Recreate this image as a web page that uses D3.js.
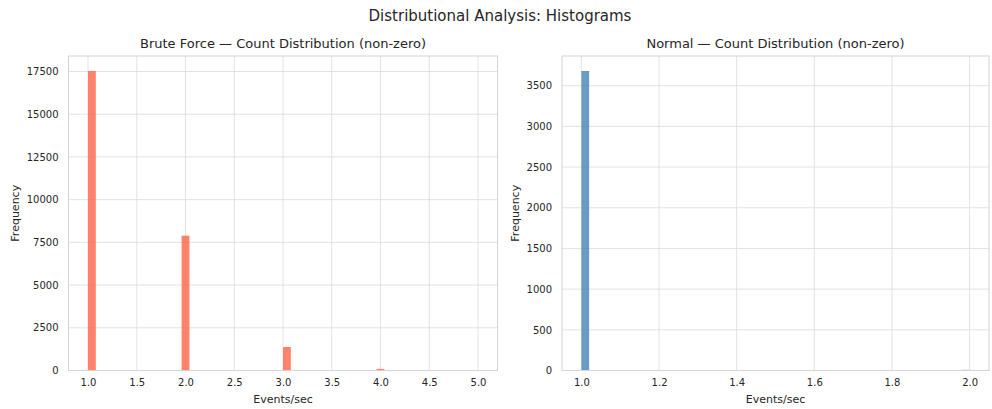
<!DOCTYPE html>
<html>
<head>
<meta charset="utf-8">
<script src="https://cdn.jsdelivr.net/npm/d3@7"></script>
<style>
  body { margin: 0; background: #fff; }
  text { font-family: "DejaVu Sans", sans-serif; fill: #262626; }
</style>
</head>
<body>
<svg id="chart"></svg>
<script>
// histogram bins: left edge of each non-empty bin and its count
var bruteBinStarts = [1.0, 1.96, 3.0, 3.96, 4.92]
var bruteCounts = [17530, 7890, 1375, 95, 3]
var bruteBinWidth = 0.08
var bruteTicks = [1.0, 1.5, 2.0, 2.5, 3.0, 3.5, 4.0, 4.5, 5.0]
var bruteYTicks = [0, 2500, 5000, 7500, 10000, 12500, 15000, 17500]

var normalBinStarts = [1.0, 1.98]
var normalCounts = [3681, 8]
var normalBinWidth = 0.02
var normalTicks = [1.0, 1.2, 1.4, 1.6, 1.8, 2.0]
var normalYTicks = [0, 500, 1000, 1500, 2000, 2500, 3000, 3500]

var dimensions = { width: 992, height: 409 }

var svg = d3.select("#chart")
  .attr("width", dimensions.width)
  .attr("height", dimensions.height)

svg.append("text")
  .attr("x", 500)
  .attr("y", 21)
  .attr("text-anchor", "middle")
  .style("font-size", "15px")
  .text("Distributional Analysis: Histograms")

function drawPanel(opts) {
  var xScale = d3.scaleLinear()
    .domain(opts.xDomain)
    .range([opts.left, opts.right])

  var ymax = d3.max(opts.counts) * 1.05
  var yScale = d3.scaleLinear()
    .domain([0, ymax])
    .range([opts.bottom, opts.top])

  var g = svg.append("g")

  // grid
  g.append("g").selectAll("line")
    .data(opts.xTicks)
    .enter().append("line")
    .attr("x1", d => xScale(d)).attr("x2", d => xScale(d))
    .attr("y1", opts.top).attr("y2", opts.bottom)
    .attr("stroke", "#dcdcdc").attr("stroke-width", 0.8)

  g.append("g").selectAll("line")
    .data(opts.yTicks)
    .enter().append("line")
    .attr("x1", opts.left).attr("x2", opts.right)
    .attr("y1", d => yScale(d)).attr("y2", d => yScale(d))
    .attr("stroke", "#dcdcdc").attr("stroke-width", 0.8)

  // bars
  g.append("g").selectAll("rect")
    .data(opts.binStarts)
    .enter().append("rect")
    .attr("x", d => xScale(d))
    .attr("width", d => xScale(d + opts.binWidth) - xScale(d))
    .attr("y", (d, i) => yScale(opts.counts[i]))
    .attr("height", (d, i) => yScale(0) - yScale(opts.counts[i]))
    .attr("fill", opts.color)
    .attr("fill-opacity", 0.8)

  // frame
  g.append("rect")
    .attr("x", opts.left).attr("y", opts.top)
    .attr("width", opts.right - opts.left)
    .attr("height", opts.bottom - opts.top)
    .attr("fill", "none")
    .attr("stroke", "#d4d4d4").attr("stroke-width", 1)

  // axes
  var xAxisGen = d3.axisBottom(xScale)
    .tickValues(opts.xTicks)
    .tickFormat(d3.format(".1f"))
    .tickSize(0).tickPadding(8)
  var xAxis = g.append("g")
    .attr("transform", `translate(0,${opts.bottom})`)
    .call(xAxisGen)
  xAxis.select(".domain").remove()
  xAxis.selectAll("text").style("font-size", "10px").attr("fill", "#262626")

  var yAxisGen = d3.axisLeft(yScale)
    .tickValues(opts.yTicks)
    .tickFormat(d3.format("d"))
    .tickSize(0).tickPadding(10)
  var yAxis = g.append("g")
    .attr("transform", `translate(${opts.left},0)`)
    .call(yAxisGen)
  yAxis.select(".domain").remove()
  yAxis.selectAll("text").style("font-size", "10px").attr("fill", "#262626")

  g.append("text")
    .attr("x", (opts.left + opts.right) / 2)
    .attr("y", opts.top - 8)
    .attr("text-anchor", "middle")
    .style("font-size", "13px")
    .text(opts.title)

  g.append("text")
    .attr("x", (opts.left + opts.right) / 2)
    .attr("y", 403)
    .attr("text-anchor", "middle")
    .style("font-size", "11px")
    .text("Events/sec")

  g.append("text")
    .attr("transform", `translate(${opts.left - opts.ylabelGap},${(opts.top + opts.bottom) / 2}) rotate(-90)`)
    .attr("text-anchor", "middle")
    .attr("dy", "0.35em")
    .style("font-size", "11px")
    .text("Frequency")
}

drawPanel({
  left: 68.5, right: 497.5, top: 56, bottom: 370.5,
  xDomain: [0.8, 5.2],
  binStarts: bruteBinStarts, counts: bruteCounts, binWidth: bruteBinWidth,
  xTicks: bruteTicks, yTicks: bruteYTicks,
  color: "#ff6347", ylabelGap: 53,
  title: "Brute Force \u2014 Count Distribution (non-zero)"
})

drawPanel({
  left: 562, right: 989, top: 56, bottom: 370.5,
  xDomain: [0.95, 2.05],
  binStarts: normalBinStarts, counts: normalCounts, binWidth: normalBinWidth,
  xTicks: normalTicks, yTicks: normalYTicks,
  color: "#4682b4", ylabelGap: 46.5,
  title: "Normal \u2014 Count Distribution (non-zero)"
})
</script>
</body>
</html>
